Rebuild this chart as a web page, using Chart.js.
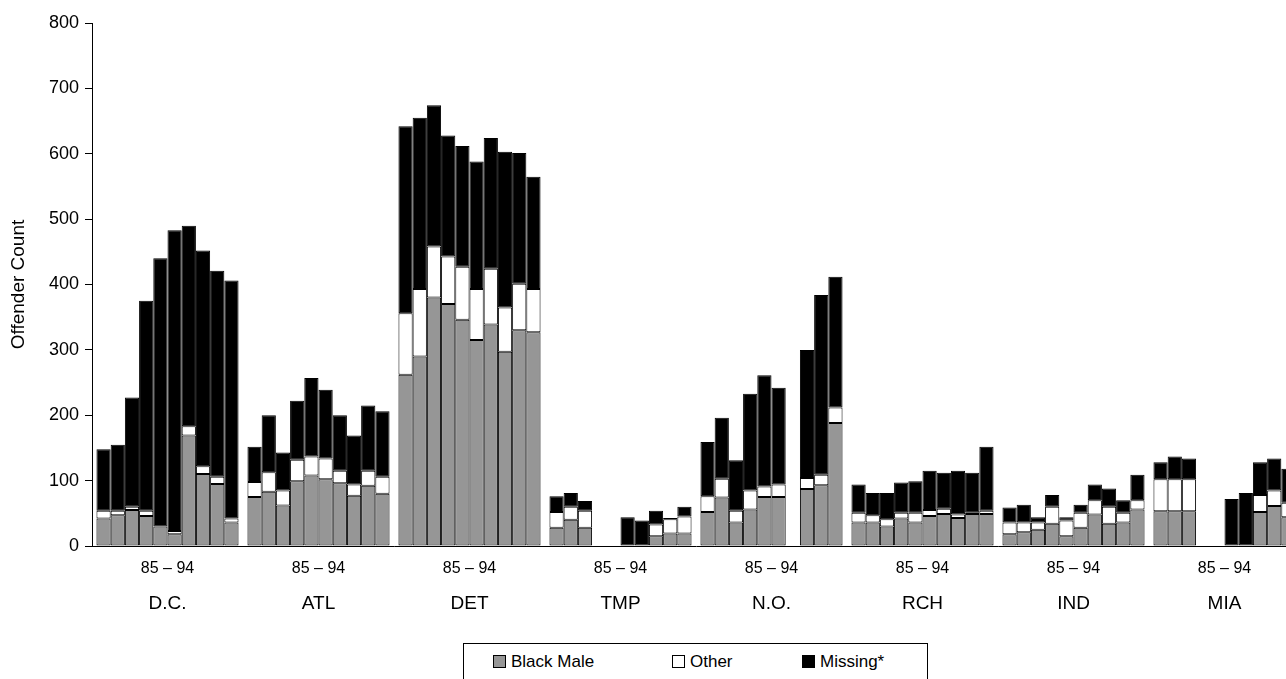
<!DOCTYPE html>
<html>
<head>
<meta charset="utf-8">
<script src="https://cdn.jsdelivr.net/npm/chart.js@4/dist/chart.umd.min.js"></script>
<style>
  html, body { margin: 0; padding: 0; background: #fff; overflow: hidden; }
  #wrap { position: relative; width: 1286px; height: 679px; overflow: hidden; }
  #myChart { position: absolute; left: 0; top: 0; }
  #legend { position: absolute; left: 463px; top: 643px; width: 463px; height: 60px;
            border: 1px solid #000; background: #fff;
            font-family: 'Liberation Sans', Arial, sans-serif; font-size: 17px; color: #000; }
  .item { position: absolute; top: 8px; display: flex; align-items: center; line-height: 19px; }
  .box { width: 13px; height: 13px; border: 1px solid #000; box-sizing: border-box; margin-right: 5px; }
</style>
</head>
<body>
<div id="wrap">
  <canvas id="myChart" width="1300" height="679"></canvas>
  <div id="legend"></div>
</div>
<script>
// cities, each with years 85..94
const cities = ['D.C.', 'ATL', 'DET', 'TMP', 'N.O.', 'RCH', 'IND', 'MIA'];
const years = ['85', '86', '87', '88', '89', '90', '91', '92', '93', '94'];
const yearRange = '85 \u2013 94';

// one row per city, one value per year
const blackMale = [
  [42, 47, 55, 46, 30, 18, 169, 110, 95, 36],
  [75, 83, 62, 99, 108, 102, 96, 77, 92, 80],
  [262, 290, 380, 370, 346, 315, 339, 297, 330, 327],
  [28, 40, 28, 0, 0, 0, 0, 15, 19, 19],
  [52, 74, 36, 56, 75, 75, 0, 87, 93, 188],
  [36, 36, 30, 42, 36, 46, 49, 43, 49, 49],
  [18, 21, 25, 34, 15, 28, 48, 34, 36, 56],
  [53, 53, 53, 0, 0, 0, 0, 52, 61, 44]
];
const other = [
  [12, 7, 5, 8, 0, 5, 14, 12, 11, 6],
  [23, 30, 23, 33, 29, 32, 19, 17, 23, 26],
  [94, 103, 78, 73, 81, 78, 85, 68, 71, 66],
  [24, 20, 26, 0, 0, 0, 0, 18, 22, 26],
  [24, 29, 18, 29, 16, 19, 0, 17, 16, 24],
  [15, 11, 11, 9, 15, 9, 8, 5, 2, 5],
  [18, 15, 11, 26, 24, 23, 22, 26, 15, 14],
  [49, 49, 49, 0, 0, 0, 0, 26, 24, 22]
];
const missing = [
  [94, 101, 167, 321, 410, 460, 307, 330, 315, 364],
  [54, 87, 58, 90, 120, 105, 85, 75, 100, 100],
  [286, 262, 216, 185, 185, 195, 200, 238, 200, 172],
  [24, 21, 15, 0, 0, 44, 39, 21, 2, 15],
  [83, 93, 77, 148, 170, 148, 0, 196, 275, 200],
  [43, 34, 40, 46, 48, 60, 55, 67, 61, 98],
  [23, 27, 8, 18, 5, 12, 24, 28, 19, 39],
  [26, 35, 32, 0, 0, 72, 81, 50, 49, 52]
];
const yTicks = [0, 100, 200, 300, 400, 500, 600, 700, 800];

const series = [
  { label: 'Black Male', values: blackMale, color: '#969696' },
  { label: 'Other', values: other, color: '#ffffff' },
  { label: 'Missing*', values: missing, color: '#000000' }
];

const FONT = "'Liberation Sans', Arial, sans-serif";

// one stack per year, three datasets per stack
const datasets = [];
years.forEach((yr, yi) => {
  series.forEach(s => {
    datasets.push({
      label: s.label,
      data: cities.map((c, ci) => s.values[ci][yi]),
      stack: 'y' + yr,
      backgroundColor: s.color,
      borderColor: '#000',
      borderWidth: 1,
      borderSkipped: false,
      barPercentage: 1,
      categoryPercentage: 0.941
    });
  });
});

const ctx = document.getElementById('myChart').getContext('2d');
const chart = new Chart(ctx, {
  type: 'bar',
  data: { labels: cities, datasets: datasets },
  options: {
    responsive: false,
    animation: false,
    layout: { padding: { top: 23, left: 0, right: 0, bottom: 62 } },
    plugins: {
      legend: { display: false },
      tooltip: { enabled: false }
    },
    scales: {
      x: {
        stacked: true,
        weight: 0,
        grid: { display: true, drawOnChartArea: false, drawTicks: false, tickLength: 0 },
        border: { display: true, color: '#000', width: 1 },
        ticks: {
          color: '#000',
          font: { family: FONT, size: 16 },
          padding: 13,
          maxRotation: 0,
          autoSkip: false,
          callback: () => yearRange
        }
      },
      x2: {
        type: 'category',
        labels: cities,
        position: 'bottom',
        weight: 1,
        grid: { display: false, drawTicks: false, tickLength: 0 },
        border: { display: false },
        ticks: {
          color: '#000',
          font: { family: FONT, size: 19 },
          padding: 1.5,
          maxRotation: 0,
          autoSkip: false
        }
      },
      y: {
        stacked: true,
        min: 0,
        max: 800,
        afterFit: (scale) => { scale.width = 92; },
        afterBuildTicks: (scale) => { scale.ticks = yTicks.map(v => ({ value: v })); },
        grid: { display: true, drawOnChartArea: false, tickLength: 7, color: '#000' },
        border: { display: true, color: '#000', width: 1 },
        ticks: {
          color: '#000',
          font: { family: FONT, size: 18 },
          padding: 6
        },
        title: {
          display: true,
          text: 'Offender Count',
          color: '#000',
          font: { family: FONT, size: 19 },
          padding: { top: 7, bottom: 4 }
        }
      }
    }
  }
});

// legend box below the chart, built from the first stack's datasets
const legendEl = document.getElementById('legend');
const itemLeft = [29, 208, 338];
series.forEach((s, i) => {
  const ds = chart.data.datasets[i];
  const item = document.createElement('div');
  item.className = 'item';
  item.style.left = itemLeft[i] + 'px';
  const box = document.createElement('span');
  box.className = 'box';
  box.style.background = ds.backgroundColor;
  const txt = document.createElement('span');
  txt.textContent = ds.label;
  item.appendChild(box);
  item.appendChild(txt);
  legendEl.appendChild(item);
});
</script>
</body>
</html>
